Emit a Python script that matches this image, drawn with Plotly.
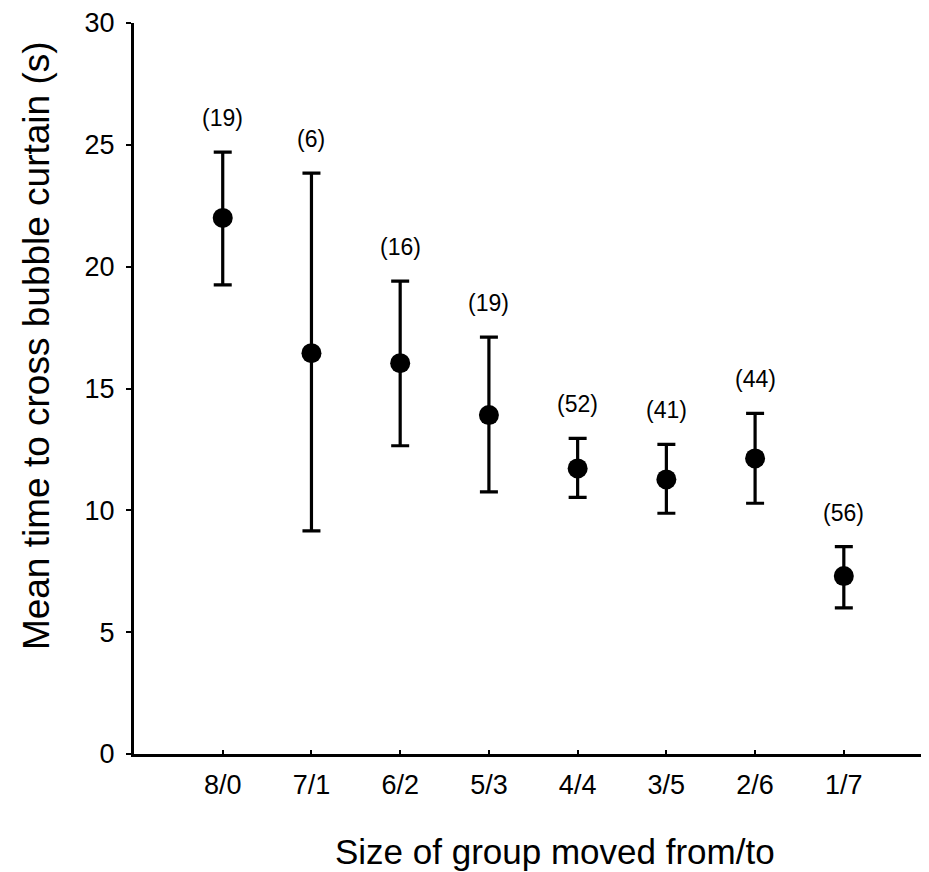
import plotly.graph_objects as go

categories = ["8/0", "7/1", "6/2", "5/3", "4/4", "3/5", "2/6", "1/7"]
means = [22.0, 16.45, 16.04, 13.91, 11.72, 11.27, 12.13, 7.30]
upper = [24.7, 23.84, 19.41, 17.11, 12.95, 12.71, 13.98, 8.51]
lower = [19.25, 9.16, 12.65, 10.76, 10.53, 9.88, 10.29, 6.0]
counts = ["(19)", "(6)", "(16)", "(19)", "(52)", "(41)", "(44)", "(56)"]
y_ticks = [0, 5, 10, 15, 20, 25, 30]
x_title = "Size of group moved from/to"
y_title = "Mean time to cross bubble curtain (s)"

xpos = list(range(1, len(categories) + 1))
err_plus = [u - m for u, m in zip(upper, means)]
err_minus = [m - l for m, l in zip(means, lower)]

FONT = "Liberation Sans, Arial, Helvetica, sans-serif"

fig = go.Figure()
fig.add_trace(go.Scatter(
    x=xpos, y=means, mode="markers",
    marker=dict(size=20, color="black", symbol="circle"),
    error_y=dict(type="data", symmetric=False, array=err_plus, arrayminus=err_minus,
                 color="black", thickness=3.2, width=9),
    showlegend=False, hoverinfo="skip",
))

for x, u, c in zip(xpos, upper, counts):
    fig.add_annotation(x=x, y=u, xref="x", yref="y", text=c, showarrow=False,
                       yanchor="bottom", yshift=19,
                       font=dict(family=FONT, size=23, color="black"))

# axis titles (placed as annotations to match the off-centre positions)
fig.add_annotation(x=0.53, y=0, xref="paper", yref="paper", text=x_title,
                   showarrow=False, xanchor="center", yanchor="middle", yshift=-97,
                   font=dict(family=FONT, size=35, color="black"))
fig.add_annotation(x=0, y=0.558, xref="paper", yref="paper", text=y_title,
                   showarrow=False, textangle=-90, xanchor="center", yanchor="middle",
                   xshift=-98, font=dict(family=FONT, size=37, color="black"))

fig.update_layout(
    width=921, height=864,
    margin=dict(l=126, r=0, t=15, b=118),
    plot_bgcolor="white", paper_bgcolor="white",
    font=dict(family=FONT, color="black"),
    xaxis=dict(
        range=[0, 8.96], tickmode="array", tickvals=xpos, ticktext=categories,
        showline=True, linecolor="black", linewidth=3, mirror=False,
        ticks="inside", ticklen=4, tickwidth=2, tickcolor="black",
        ticklabelstandoff=5,
        showgrid=False, zeroline=False,
        tickfont=dict(family=FONT, size=27, color="black"),
    ),
    yaxis=dict(
        range=[0, 30], tickmode="array", tickvals=y_ticks,
        showline=True, linecolor="black", linewidth=3,
        ticks="outside", ticklen=5, tickwidth=2, tickcolor="black",
        ticklabelstandoff=6,
        showgrid=False, zeroline=False,
        tickfont=dict(family=FONT, size=27, color="black"),
    ),
)

fig.write_html("out.html")
